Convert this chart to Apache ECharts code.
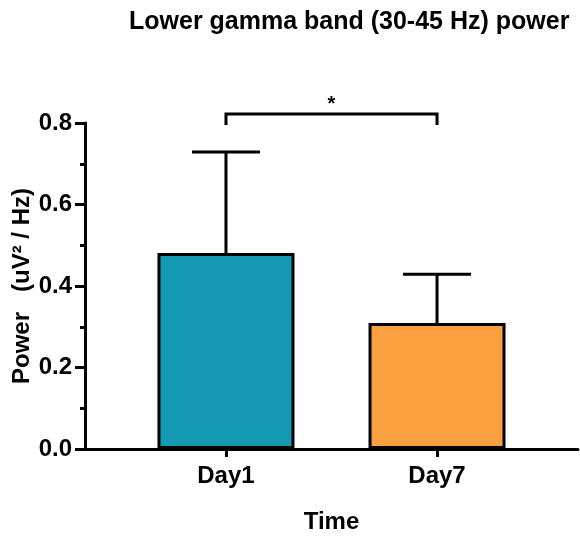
<!DOCTYPE html>
<html>
<head>
<meta charset="utf-8">
<script src="https://cdn.jsdelivr.net/npm/echarts@6/dist/echarts.min.js"></script>
<style>html,body{margin:0;padding:0;background:#fff}#c{width:580px;height:536px}</style>
</head>
<body>
<div id="c"></div>
<script>
const categories = ['Day1', 'Day7'];
const means = [0.481, 0.309];
const sems = [0.248, 0.120];
const barColors = ['#1598B2', '#FBA040'];
const yTicks = [0, 0.2, 0.4, 0.6, 0.8];
const bracketY = 0.822;
const bracketDrop = 0.795;
const starY = 0.846;
const sigLabel = '*';

const FONT = 'Liberation Sans, Arial, sans-serif';
const chart = echarts.init(document.getElementById('c'), null, {renderer: 'canvas'});

const barData = categories.map((c, i) => ({value: [i, means[i]], itemStyle: {color: barColors[i]}}));
const errData = categories.map((c, i) => [i, means[i], sems[i]]);

chart.setOption({
  animation: false,
  title: {
    text: 'Lower gamma band (30-45 Hz) power',
    left: 124, top: 5,
    textStyle: {fontFamily: FONT, fontWeight: 'bold', fontSize: 25, color: '#000'}
  },
  grid: {left: 85, right: 2, top: 123, bottom: 87, containLabel: false, outerBoundsMode: 'none'},
  xAxis: {
    type: 'value', min: -0.668, max: 1.668,
    splitLine: {show: false},
    axisLine: {show: true, lineStyle: {color: '#000', width: 3}},
    axisTick: {show: true, customValues: [0, 1], length: 8, lineStyle: {color: '#000', width: 3}},
    axisLabel: {
      customValues: [0, 1], margin: 15,
      formatter: v => categories[Math.round(v)] || '',
      fontFamily: FONT, fontWeight: 'bold', fontSize: 24, color: '#000'
    },
    name: 'Time', nameLocation: 'middle', nameGap: 61, nameMoveOverlap: false,
    nameTextStyle: {fontFamily: FONT, fontWeight: 'bold', fontSize: 24, color: '#000'}
  },
  yAxis: {
    type: 'value', min: 0, max: 0.8, interval: 0.2,
    splitLine: {show: false},
    axisLine: {show: true, onZero: false, lineStyle: {color: '#000', width: 3}},
    axisTick: {show: true, length: 10, lineStyle: {color: '#000', width: 3}},
    minorTick: {show: true, splitNumber: 2, length: 5, lineStyle: {color: '#000', width: 3}},
    axisLabel: {
      margin: 13,
      formatter: v => { const t = yTicks.find(x => Math.abs(x - v) < 1e-9); return t === undefined ? '' : t.toFixed(1); },
      fontFamily: FONT, fontWeight: 'bold', fontSize: 24, color: '#000'
    },
    name: 'Power   (uV² / Hz)', nameLocation: 'middle', nameGap: 51, nameMoveOverlap: false,
    nameTextStyle: {fontFamily: FONT, fontWeight: 'bold', fontSize: 24, color: '#000'}
  },
  series: [
    {
      type: 'bar', data: barData, barWidth: 137,
      itemStyle: {borderColor: '#000', borderWidth: 3},
      z: 2
    },
    {
      type: 'custom', data: errData, z: 1,
      renderItem: (params, api) => {
        const x = api.value(0), y = api.value(1), e = api.value(2);
        const p0 = api.coord([x, y]);
        const p1 = api.coord([x, y + e]);
        const half = 34;
        const st = {stroke: '#000', lineWidth: 3};
        return {type: 'group', children: [
          {type: 'line', shape: {x1: p0[0], y1: p0[1], x2: p1[0], y2: p1[1]}, style: st},
          {type: 'line', shape: {x1: p1[0] - half, y1: p1[1], x2: p1[0] + half, y2: p1[1]}, style: st}
        ]};
      }
    },
    {
      type: 'custom', data: [[0, 1, bracketY, bracketDrop, starY]], clip: false, z: 3,
      renderItem: (params, api) => {
        const a = api.coord([api.value(0), api.value(2)]);
        const b = api.coord([api.value(1), api.value(2)]);
        const a2 = api.coord([api.value(0), api.value(3)]);
        const b2 = api.coord([api.value(1), api.value(3)]);
        const s = api.coord([(api.value(0) + api.value(1)) / 2, api.value(4)]);
        const st = {stroke: '#000', lineWidth: 3, fill: null};
        return {type: 'group', children: [
          {type: 'polyline', shape: {points: [a2, a, b, b2]}, style: st},
          {type: 'text', x: s[0], y: s[1], style: {text: sigLabel, fill: '#000', font: 'bold 20px ' + FONT, align: 'center', verticalAlign: 'middle'}}
        ]};
      }
    }
  ]
});
</script>
</body>
</html>
